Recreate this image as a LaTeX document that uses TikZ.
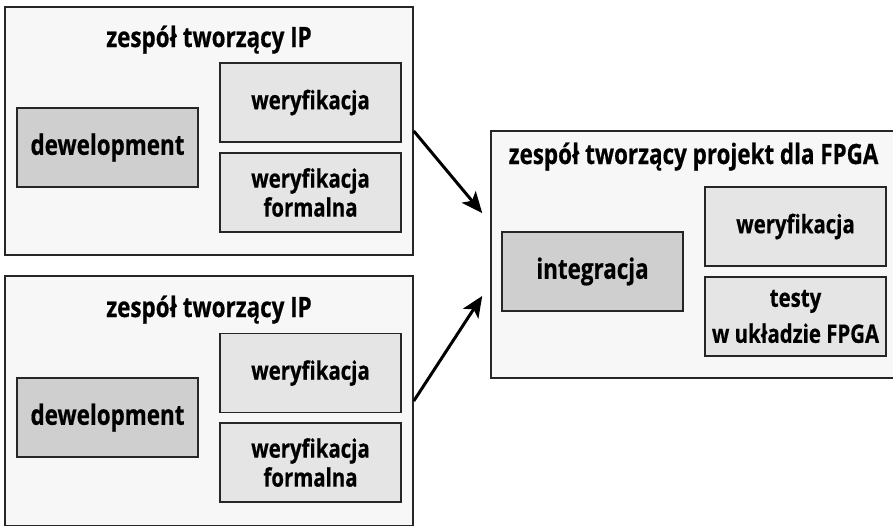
\documentclass[tikz,border=0pt]{standalone}
\usepackage{fontspec}
\setmainfont{Open Sans}[FakeStretch=0.8, BoldFeatures={FakeBold=0.5}]
\usepackage{tikz}
\usetikzlibrary{arrows.meta, positioning, calc}
\tikzset{
    team/.style={rectangle, draw=black!85, fill=black!3, line width=1.5pt},
    title/.style={anchor=base, inner sep=0pt, font=\fontsize{28}{30}\selectfont\bfseries},
    devbox/.style={rectangle, draw=black!85, fill=black!19, line width=1.5pt,
                   minimum width=181pt, minimum height=79pt, align=center,
                   font=\fontsize{28}{30}\selectfont\bfseries},
    task/.style={rectangle, draw=black!85, fill=black!10, line width=1.5pt,
                 minimum width=181pt, minimum height=79pt, align=center, inner sep=2pt,
                 font=\fontsize{25.5}{29}\selectfont\bfseries},
    arrow/.style={-{Stealth[length=21pt, width=18pt, inset=5pt]}, line width=3pt, draw=black}
}

\begin{document}
\begin{tikzpicture}[x=1pt, y=-1pt]
  \path[use as bounding box, clip] (0,0) rectangle (893,525);

  % --- IP team 1 ---
  \node[team, minimum width=408pt, minimum height=248pt] (ip1) at (209,131) {};
  \node[title] (t1) at (209,47) {zespół tworzący IP};
  \node[devbox] (dev1) at (107.5,147.5) {dewelopment};
  \node[task] (ver1) at (310.5,102.5) {weryfikacja};
  \node[task] (form1) at (310.5,192.5) {weryfikacja\\formalna};

  % --- IP team 2 ---
  \node[team, minimum width=408pt, minimum height=250pt] (ip2) at (209,401) {};
  \node[title] (t2) at (209,317) {zespół tworzący IP};
  \node[devbox] (dev2) at (107.5,417.5) {dewelopment};
  \node[task] (ver2) at (310.5,373) {weryfikacja};
  \node[task] (form2) at (310.5,462.5) {weryfikacja\\formalna};

  % --- FPGA team ---
  \node[team, minimum width=406pt, minimum height=247pt] (fpga) at (694,254.5) {};
  \node[title] (t3) at (693.5,164) {zespół tworzący projekt dla FPGA};
  \node[devbox] (integ) at (592.5,271.5) {integracja};
  \node[task] (ver3) at (795.5,226.5) {weryfikacja};
  \node[task] (test) at (795.5,316.5) {testy\\[7pt]w układzie FPGA};

  % --- Arrows ---
  \coordinate (in1) at ($(fpga.north west)!1/3!(fpga.south west)+(-8,0)$);
  \coordinate (in2) at ($(fpga.north west)!2/3!(fpga.south west)+(-8,0)$);
  \draw[arrow] (ip1.east) -- (in1);
  \draw[arrow] (ip2.east) -- (in2);

\end{tikzpicture}
\end{document}
